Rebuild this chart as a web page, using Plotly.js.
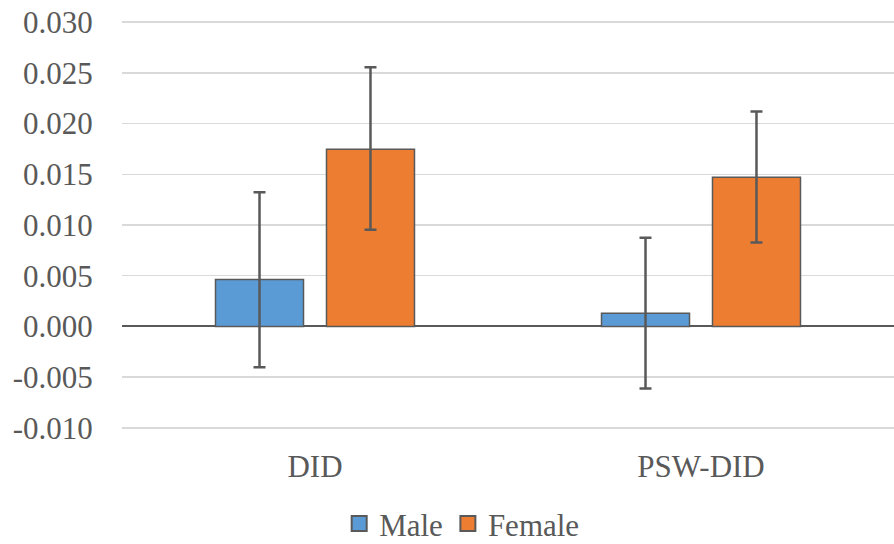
<!DOCTYPE html>
<html>
<head>
<meta charset="utf-8">
<script src="https://cdn.plot.ly/plotly-3.0.1.min.js"></script>
<style>html,body{margin:0;padding:0;background:#fff;}#chart{width:894px;height:544px;}</style>
</head>
<body>
<div id="chart"></div>
<script>
const categories = ["DID", "PSW-DID"];
const seriesNames = ["Male", "Female"];
const maleValues = [0.00463, 0.00131];
const maleUpper = [0.01323, 0.00874];
const maleLower = [-0.00401, -0.00611];
const femaleValues = [0.01747, 0.01471];
const femaleUpper = [0.02555, 0.02118];
const femaleLower = [0.00952, 0.00828];
const yTicks = [-0.010, -0.005, 0.000, 0.005, 0.010, 0.015, 0.020, 0.025, 0.030];

const colors = ['#5b9bd5', '#ed7d31'];
const edge = '#595959';

function errs(vals, up, lo) {
  return {
    type: 'data', symmetric: false,
    array: vals.map((v, i) => up[i] - v),
    arrayminus: vals.map((v, i) => v - lo[i]),
    color: edge, thickness: 2.5, width: 6
  };
}

const traces = [
  {type: 'bar', name: seriesNames[0], x: categories, y: maleValues, showlegend: false,
   marker: {color: colors[0], line: {color: edge, width: 1.5}},
   error_y: errs(maleValues, maleUpper, maleLower)},
  {type: 'bar', name: seriesNames[1], x: categories, y: femaleValues, showlegend: false,
   marker: {color: colors[1], line: {color: edge, width: 1.5}},
   error_y: errs(femaleValues, femaleUpper, femaleLower)},
  // legend-only entries with square swatches
  {type: 'scatter', mode: 'markers', name: seriesNames[0], x: [null], y: [null],
   marker: {symbol: 'square', size: 15, color: colors[0], line: {color: edge, width: 2}}},
  {type: 'scatter', mode: 'markers', name: seriesNames[1], x: [null], y: [null],
   marker: {symbol: 'square', size: 15, color: colors[1], line: {color: edge, width: 2}}}
];

const font = {family: 'Liberation Serif, Times New Roman, serif', size: 31, color: '#595959'};

const layout = {
  width: 894, height: 544,
  margin: {l: 122, r: 0, t: 20, b: 114, autoexpand: false},
  paper_bgcolor: '#fff', plot_bgcolor: '#fff',
  font: font,
  barmode: 'group', bargap: 0.425, bargroupgap: 0.207,
  showlegend: true,
  legend: {orientation: 'h', x: 0.44, xanchor: 'center', y: -0.229, yanchor: 'middle',
           font: font, traceorder: 'normal', itemwidth: 30},
  xaxis: {type: 'category', showgrid: false, showline: false, zeroline: false,
          ticks: 'outside', ticklen: 9, tickcolor: 'rgba(0,0,0,0)', tickfont: font},
  yaxis: {range: [-0.0102, 0.0302], tickvals: yTicks, ticktext: yTicks.map(v => v.toFixed(3)),
          showgrid: true, gridcolor: '#d9d9d9', gridwidth: 1.5,
          zeroline: true, zerolinecolor: edge, zerolinewidth: 2,
          showline: false, ticks: 'outside', ticklen: 22, tickcolor: 'rgba(0,0,0,0)', tickfont: font}
};

Plotly.newPlot('chart', traces, layout, {displayModeBar: false, staticPlot: true});
</script>
</body>
</html>
